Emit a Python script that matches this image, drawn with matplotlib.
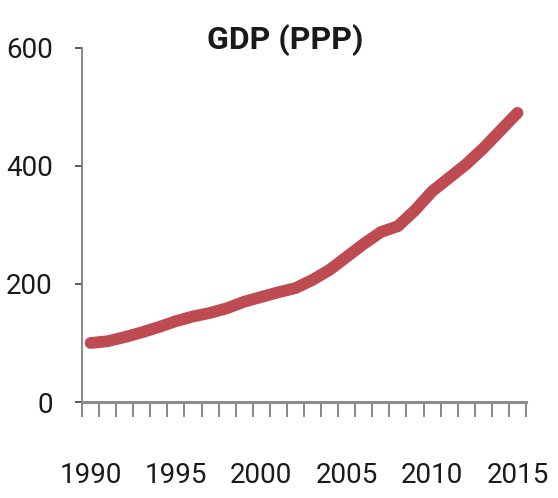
import matplotlib
matplotlib.use("Agg")
import matplotlib.pyplot as plt
from matplotlib.ticker import FixedLocator

years = list(range(1990, 2016))
gdp_ppp = [100, 103, 110, 118, 127, 137, 145, 151, 159, 170, 178, 186, 193,
           207, 224, 246, 268, 288, 298, 325, 357, 380, 403, 430, 460, 490]
y_ticks = [0, 200, 400, 600]
x_labels = [1990, 1995, 2000, 2005, 2010, 2015]
title = "GDP (PPP)"

FONT = ['Roboto', 'DejaVu Sans']
plt.rcParams['font.family'] = FONT

fig = plt.figure(figsize=(5.58, 4.98), dpi=100)
ax = fig.add_axes([82/558, 96/498, (526-82)/558, (402-48)/498])

ax.plot(years, gdp_ppp, color='#BE4B52', linewidth=8.5, solid_capstyle='round',
        solid_joinstyle='round')

ax.set_xlim(1989.5, 2015.5)
ax.set_ylim(0, 600)
ax.set_yticks(y_ticks)
ax.set_yticklabels([str(v) for v in y_ticks])
ax.set_xticks(x_labels)
ax.set_xticklabels([str(v) for v in x_labels])
ax.xaxis.set_minor_locator(FixedLocator([y - 0.5 for y in years] + [2015.5]))

for s in ['top', 'right']:
    ax.spines[s].set_visible(False)
ax.spines['left'].set_color('#7f7f7f')
ax.spines['left'].set_linewidth(1.3)
ax.spines['bottom'].set_color('#8c8c8c')
ax.spines['bottom'].set_linewidth(2.2)

ax.tick_params(axis='x', which='major', length=0, pad=43, labelsize=20,
               labelcolor='#1a1a1a')
ax.tick_params(axis='x', which='minor', length=11, width=1.3, color='#7f7f7f',
               direction='out')
ax.tick_params(axis='y', which='major', length=5, width=1.2, color='#404040',
               pad=16, labelsize=20, labelcolor='#1a1a1a')

fig.text(285/558, 1 - 40/498, title, ha='center', va='center', fontsize=23,
         fontweight='bold', color='#1a1a1a')

fig.savefig('out.png', dpi=100, facecolor='white')
